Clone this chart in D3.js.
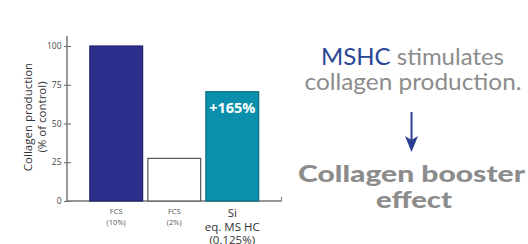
<!DOCTYPE html>
<html>
<head>
<meta charset="utf-8">
<script src="https://cdn.jsdelivr.net/npm/d3@7"></script>
<style>
  body { margin: 0; background: #fff; }
  svg { display: block; }
</style>
</head>
<body>
<div id="chart"></div>
<script>
const categories = ["fcs10", "fcs2", "si"];
const values = [100, 27.5, 70.5];
const labelLines = [["FCS", "(10%)"], ["FCS", "(2%)"], ["Si", "eq. MS HC", "(0.125%)"]];
const yTicks = [0, 25, 50, 75, 100];
const barColors = ["#2c2e8c", "#ffffff", "#0c8fab"];
const barLabel = "+165%";

const W = 528, H = 244;
const svg = d3.select('#chart').append('svg')
  .attr('width', W).attr('height', H);

const y = d3.scaleLinear().domain([0, 100]).range([201, 46]);
const x = d3.scaleBand().domain(categories).range([87.5, 261]).paddingInner(0.09).paddingOuter(0.04);

// y axis
const yAxis = svg.append('g')
  .attr('transform', 'translate(67,0)')
  .call(d3.axisLeft(y).tickValues(yTicks).tickSize(3).tickPadding(2.5));
yAxis.select('.domain').remove();
yAxis.selectAll('.tick line').attr('x2', 4).attr('x1', -3).attr('stroke', '#666');
yAxis.selectAll('.tick text')
  .style('font-family', '"Open Sans", sans-serif')
  .style('font-size', '8.5px')
  .attr('fill', '#444');
svg.append('line')
  .attr('x1', 67).attr('x2', 67).attr('y1', 36).attr('y2', 201)
  .attr('stroke', '#777').attr('stroke-width', 1.5);

// x axis baseline
svg.append('line')
  .attr('x1', 66).attr('x2', 282).attr('y1', y(0)).attr('y2', y(0))
  .attr('stroke', '#777').attr('stroke-width', 1.5);
svg.append('line')
  .attr('x1', 281.5).attr('x2', 281.5).attr('y1', y(0) - 4).attr('y2', y(0))
  .attr('stroke', '#888').attr('stroke-width', 1.2);

// y axis title
const yt = svg.append('text')
  .attr('transform', 'translate(28,117) rotate(-90)')
  .attr('text-anchor', 'middle')
  .style('font-family', '"Open Sans", sans-serif')
  .style('font-size', '11.5px')
  .attr('fill', '#333');
yt.append('tspan').attr('x', 0).attr('dy', '0.35em').text('Collagen production');
yt.append('tspan').attr('x', 0).attr('dy', 14).text('(% of control)');

// bars
svg.selectAll('rect.bar')
  .data(categories)
  .enter()
  .append('rect')
  .attr('class', 'bar')
  .attr('x', d => x(d))
  .attr('width', x.bandwidth())
  .attr('y', (d, i) => y(values[i]))
  .attr('height', (d, i) => y(0) - y(values[i]))
  .attr('fill', (d, i) => barColors[i])
  .attr('stroke', (d, i) => i === 1 ? '#555' : d3.color(barColors[i]).darker(0.8))
  .attr('stroke-width', 1.2);

svg.append('text')
  .attr('x', x('si') + x.bandwidth() / 2)
  .attr('y', y(values[2]) + 21)
  .attr('text-anchor', 'middle')
  .style('font-family', '"Open Sans", sans-serif')
  .style('font-weight', 'bold')
  .style('font-size', '14.5px')
  .attr('fill', '#fff')
  .text(barLabel);

// x labels
categories.forEach((c, i) => {
  const big = i === 2;
  const t = svg.append('text')
    .attr('text-anchor', 'middle')
    .attr('x', x(c) + x.bandwidth() / 2)
    .attr('y', big ? 217 : 214)
    .style('font-family', '"Open Sans", sans-serif')
    .style('font-size', big ? '11.5px' : '7.5px')
    .attr('fill', big ? '#333' : '#555');
  labelLines[i].forEach((l, j) => {
    t.append('tspan')
      .attr('x', x(c) + x.bandwidth() / 2)
      .attr('dy', j === 0 ? 0 : (big ? 13.5 : 11))
      .text(l);
  });
});

// right side message
const msg = svg.append('g').style('font-family', 'Lato, "Open Sans", sans-serif');
const l1 = msg.append('text')
  .attr('x', 412.5).attr('y', 64.5)
  .attr('text-anchor', 'middle')
  .style('font-size', '23.5px')
  .attr('fill', '#8c8c8c')
  .attr('textLength', 183)
  .attr('lengthAdjust', 'spacingAndGlyphs');
l1.append('tspan').attr('fill', '#2a4696').text('MSHC');
l1.append('tspan').text(' stimulates');
msg.append('text')
  .attr('x', 413).attr('y', 89.5)
  .attr('text-anchor', 'middle')
  .style('font-size', '23.5px')
  .attr('fill', '#8c8c8c')
  .attr('textLength', 217)
  .attr('lengthAdjust', 'spacingAndGlyphs')
  .text('collagen production.');

// arrow
svg.append('line')
  .attr('x1', 411.5).attr('x2', 411.5).attr('y1', 112).attr('y2', 140)
  .attr('stroke', '#2a3f94').attr('stroke-width', 2);
svg.append('path')
  .attr('d', d3.line()([[405, 136], [411.5, 152], [418, 136], [411.5, 140]]) + 'Z')
  .attr('fill', '#2a3f94');

msg.append('text')
  .attr('x', 411.5).attr('y', 182)
  .attr('text-anchor', 'middle')
  .style('font-size', '23px')
  .style('font-weight', '900')
  .attr('fill', '#8c8c8c')
  .attr('textLength', 227)
  .attr('lengthAdjust', 'spacingAndGlyphs')
  .text('Collagen booster');
msg.append('text')
  .attr('x', 414).attr('y', 208)
  .attr('text-anchor', 'middle')
  .style('font-size', '23px')
  .style('font-weight', '900')
  .attr('fill', '#8c8c8c')
  .attr('textLength', 76)
  .attr('lengthAdjust', 'spacingAndGlyphs')
  .text('effect');
</script>
</body>
</html>
